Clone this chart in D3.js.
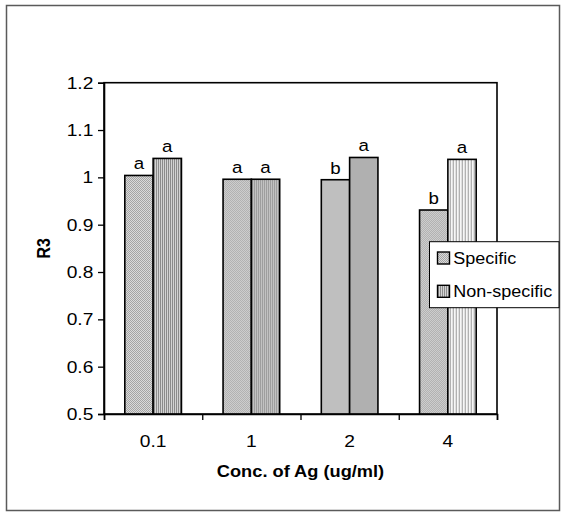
<!DOCTYPE html>
<html>
<head>
<meta charset="utf-8">
<script src="https://cdn.jsdelivr.net/npm/d3@7"></script>
<style>
  html, body { margin: 0; padding: 0; background: #fff; }
  svg { display: block; }
  text { font-family: "Liberation Sans", Arial, sans-serif; fill: #000; }
</style>
</head>
<body>
<svg id="chart" width="561" height="512"></svg>
<script>
// ---- data ----
const categories = ["0.1", "1", "2", "4"];
const seriesNames = ["Specific", "Non-specific"];
const specific = [1.004, 0.996, 0.995, 0.931];
const nonSpecific = [1.040, 0.996, 1.042, 1.038];
const specificLabels = ["a", "a", "b", "b"];
const nonSpecificLabels = ["a", "a", "a", "a"];
const yTicks = [0.5, 0.6, 0.7, 0.8, 0.9, 1.0, 1.1, 1.2];
const xTitle = "Conc. of Ag (ug/ml)";
const yTitle = "R3";

// ---- layout ----
const svg = d3.select("#chart");
const plot = { left: 104, right: 497, top: 82.7, bottom: 414 };

// patterns
const defs = svg.append("defs");
function patt(id, w, h, draw) {
  const p = defs.append("pattern").attr("id", id)
    .attr("patternUnits", "userSpaceOnUse").attr("width", w).attr("height", h);
  draw(p);
}
patt("pSpec", 2, 2, p => {
  p.append("rect").attr("width", 2).attr("height", 2).attr("fill", "#dadada");
  p.append("rect").attr("width", 1).attr("height", 1).attr("fill", "#a4a4a4");
  p.append("rect").attr("x", 1).attr("y", 1).attr("width", 1).attr("height", 1).attr("fill", "#a4a4a4");
});
patt("pNon", 2, 2, p => {
  p.append("rect").attr("width", 2).attr("height", 2).attr("fill", "#d4d4d4");
  p.append("rect").attr("width", 1).attr("height", 2).attr("fill", "#8c8c8c");
});
patt("pNonLight", 3, 3, p => {
  p.append("rect").attr("width", 3).attr("height", 3).attr("fill", "#f6f6f6");
  p.append("rect").attr("width", 1).attr("height", 3).attr("fill", "#9a9a9a");
});

// outer frame
svg.append("rect").attr("x", 6.5).attr("y", 5.5).attr("width", 553).attr("height", 505)
  .attr("fill", "#fff").attr("stroke", "#5a5a5a").attr("stroke-width", 1.5);

const x0 = d3.scaleBand().domain(categories).range([plot.left, plot.right]).padding(0);
const x1 = d3.scaleBand().domain(seriesNames).range([0, x0.bandwidth()])
  .paddingInner(0).paddingOuter(0.735);
const y = d3.scaleLinear().domain([0.5, 1.2]).range([plot.bottom, plot.top]);

// text helper with slight horizontal stretch
function stext(g, tx, ty, str, opts) {
  const gg = g.append("g").attr("transform", `translate(${tx},${ty}) scale(${opts.sx || 1},1)`);
  const t = gg.append("text").text(str)
    .attr("font-size", opts.size || 16)
    .attr("text-anchor", opts.anchor || "middle")
    .attr("font-weight", opts.bold ? "bold" : "normal");
  if (opts.dy) t.attr("dy", opts.dy);
  if (opts.rotate) t.attr("transform", `rotate(${opts.rotate})`);
  return t;
}

// plot area border
svg.append("rect").attr("x", plot.left).attr("y", plot.top)
  .attr("width", plot.right - plot.left).attr("height", plot.bottom - plot.top)
  .attr("fill", "none").attr("stroke", "#000").attr("stroke-width", 1.6);

// bars
const rows = categories.map((c, i) => ({
  cat: c, i,
  vals: [
    { s: "Specific", v: specific[i], lab: specificLabels[i], fill: "url(#pSpec)" },
    { s: "Non-specific", v: nonSpecific[i], lab: nonSpecificLabels[i], fill: i === 3 ? "url(#pNonLight)" : "url(#pNon)" }
  ]
}));
const groups = svg.append("g").selectAll("g").data(rows).join("g")
  .attr("transform", d => `translate(${x0(d.cat)},0)`);
groups.selectAll("rect").data(d => d.vals).join("rect")
  .attr("x", d => x1(d.s)).attr("width", x1.bandwidth())
  .attr("y", d => y(d.v)).attr("height", d => y(0.5) - y(d.v))
  .attr("fill", d => d.fill).attr("stroke", "#000").attr("stroke-width", 1.6);
groups.each(function (d) {
  const g = d3.select(this);
  d.vals.forEach(v => {
    stext(g, x1(v.s) + x1.bandwidth() / 2, y(v.v) - 6, v.lab, { size: 17, sx: 1.1 });
  });
});

// y axis
const yAxis = d3.axisLeft(y).tickValues(yTicks).tickSize(6).tickFormat(d3.format("~g"));
const ya = svg.append("g").attr("transform", `translate(${plot.left},0)`).call(yAxis);
ya.select(".domain").attr("stroke", "#000").attr("stroke-width", 1.6);
ya.selectAll(".tick line").attr("stroke", "#000").attr("stroke-width", 1.3);
ya.selectAll(".tick text").each(function (d) {
  const s = d3.select(this).text();
  d3.select(this).remove();
  const tk = d3.select(this.parentNode || null);
});
ya.selectAll(".tick").each(function (d) {
  const g = d3.select(this);
  g.selectAll("text").remove();
  stext(g, -10.7, 0, d3.format("~g")(d), { size: 16, sx: 1.2, anchor: "end", dy: "0.35em" });
});

// x axis
const xTickScale = d3.scalePoint().domain(d3.range(categories.length + 1))
  .range([plot.left, plot.right]);
const xa = svg.append("g").attr("transform", `translate(0,${plot.bottom})`)
  .call(d3.axisBottom(xTickScale).tickSize(6).tickFormat(""));
xa.select(".domain").attr("stroke", "#000").attr("stroke-width", 1.6);
xa.selectAll(".tick line").attr("stroke", "#000").attr("stroke-width", 1.3);
categories.forEach(c => {
  stext(svg, x0(c) + x0.bandwidth() / 2, 446.7, c, { size: 16, sx: 1.2 });
});

// axis titles
stext(svg, (plot.left + plot.right) / 2, 477.3, xTitle, { size: 16, sx: 1.14, bold: true });
stext(svg, 50, (plot.top + plot.bottom) / 2, yTitle, { size: 16, sx: 1.15, bold: true, rotate: -90 });

// legend
const lg = svg.append("g");
lg.append("rect").attr("x", 429.5).attr("y", 241.7).attr("width", 129.5).attr("height", 66)
  .attr("fill", "#fff").attr("stroke", "#000").attr("stroke-width", 1);
const legendFills = ["url(#pSpec)", "url(#pNon)"];
seriesNames.forEach((n, i) => {
  const yy = 252 + i * 33.3;
  lg.append("rect").attr("x", 437.5).attr("y", yy).attr("width", 12).attr("height", 12)
    .attr("fill", legendFills[i]).attr("stroke", "#000").attr("stroke-width", 1.4);
  stext(lg, 453.3, yy + 11.5, n, { size: 17, sx: 1.06, anchor: "start" });
});
</script>
</body>
</html>
